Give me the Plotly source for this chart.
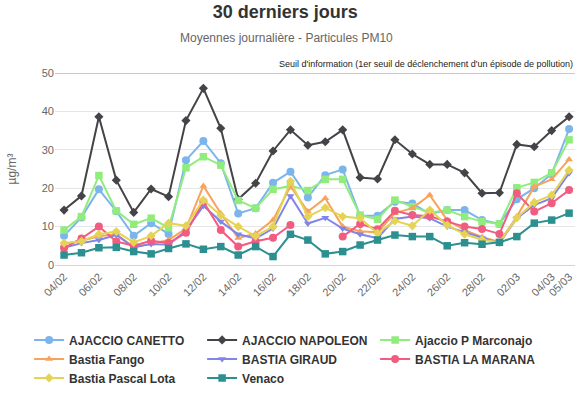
import plotly.graph_objects as go

dates = ["04/02","05/02","06/02","07/02","08/02","09/02","10/02","11/02","12/02","13/02",
         "14/02","15/02","16/02","17/02","18/02","19/02","20/02","21/02","22/02","23/02",
         "24/02","25/02","26/02","27/02","28/02","01/03","02/03","03/03","04/03","05/03"]
tick_labels = ["04/02","06/02","08/02","10/02","12/02","14/02","16/02","18/02","20/02",
               "22/02","24/02","26/02","28/02","02/03","04/03","05/03"]

ajaccio_canetto = [7.6,12.4,19.7,14.0,7.6,10.9,8.1,27.3,32.3,26.5,13.4,14.8,21.4,24.3,17.6,23.4,
                   24.9,12.8,12.8,16.5,16.0,13.3,14.3,14.3,11.7,10.7,17.1,20.0,23.7,35.4]
ajaccio_napoleon = [14.3,18.0,38.6,22.1,13.7,19.8,17.8,37.6,46.0,35.6,17.1,21.3,29.7,35.2,31.2,32.1,
                    35.2,22.8,22.4,32.6,28.9,26.2,26.2,24.0,18.7,18.8,31.4,30.8,35.0,38.6]
ajaccio_marconajo = [9.1,12.6,23.3,14.1,10.6,12.2,9.7,25.3,28.2,26.0,16.8,14.8,19.7,20.6,19.4,22.3,
                     22.3,13.0,11.9,16.9,15.2,13.6,14.3,12.6,11.3,10.7,20.1,21.5,24.0,32.6]
bastia_fango = [5.5,6.3,7.5,8.0,4.7,5.5,6.5,9.5,20.6,13.4,7.0,8.2,11.7,20.5,13.9,17.4,
                10.0,8.8,8.5,13.5,14.8,18.2,11.7,9.1,7.3,6.0,12.6,20.4,22.3,27.5]
bastia_giraud = [4.5,5.7,6.5,7.8,4.6,5.5,5.3,9.0,15.4,11.3,8.0,6.9,9.5,18.0,10.8,12.3,
                 9.5,8.0,7.0,12.0,12.6,12.2,10.0,8.5,7.0,5.7,12.2,15.6,17.4,23.9]
bastia_marana = [4.4,6.9,10.0,6.1,5.0,6.3,5.7,8.4,16.5,9.1,4.8,6.2,7.1,10.4,None,None,
                 7.4,10.7,9.3,14.1,13.0,12.7,11.3,10.0,9.4,8.1,18.7,13.9,16.1,19.5]
bastia_lota = [5.7,6.2,8.0,8.7,5.9,7.6,10.9,10.2,16.9,12.9,10.0,7.5,10.0,21.8,12.6,14.9,
               12.6,12.2,8.3,11.5,10.2,14.3,10.4,8.0,6.6,5.9,12.3,16.3,18.2,24.7]
venaco = [2.6,3.2,4.5,4.6,3.5,2.9,4.3,5.5,4.1,4.8,2.6,4.8,2.2,8.0,6.5,2.9,
          3.5,5.2,6.5,7.8,7.4,7.4,5.0,5.8,5.4,5.9,7.4,10.9,11.7,13.5]

seuil = 50

series = [
    ("AJACCIO CANETTO", ajaccio_canetto, "#7cb5ec", "circle"),
    ("AJACCIO NAPOLEON", ajaccio_napoleon, "#434348", "diamond"),
    ("Ajaccio P Marconajo", ajaccio_marconajo, "#90ed7d", "square"),
    ("Bastia Fango", bastia_fango, "#f7a35c", "triangle-up"),
    ("BASTIA GIRAUD", bastia_giraud, "#8085e9", "triangle-down"),
    ("BASTIA LA MARANA", bastia_marana, "#f15c80", "circle"),
    ("Bastia Pascal Lota", bastia_lota, "#e4d354", "diamond"),
    ("Venaco", venaco, "#2b908f", "square"),
]
sizes = {"circle": 8, "diamond": 7, "square": 7.5, "triangle-up": 7, "triangle-down": 7}

fig = go.Figure()
for name, vals, color, sym in series:
    fig.add_trace(go.Scatter(
        x=dates, y=vals, name=name,
        mode="lines+markers",
        line=dict(color=color, width=2),
        marker=dict(symbol=sym, size=sizes[sym], color=color),
        connectgaps=False,
    ))

fig.add_shape(type="line", xref="paper", x0=0, x1=1, yref="y", y0=seuil, y1=seuil,
              line=dict(color="#f0c283", width=2), layer="above")
fig.add_annotation(xref="paper", x=1, yref="y", y=seuil, yshift=9, xanchor="right",
                   showarrow=False,
                   text="Seuil d'information (1er seuil de déclenchement d'un épisode de pollution)",
                   font=dict(size=9, color="#222", family="Liberation Sans, Arial, sans-serif"))
fig.add_annotation(xref="paper", yref="paper", x=0.445, y=1, yshift=44, xanchor="center",
                   showarrow=False, text="Moyennes journalière - Particules PM10",
                   font=dict(size=12, color="#666666"))

fig.update_layout(
    width=582, height=393,
    margin=dict(l=55, r=7, t=73, b=128),
    paper_bgcolor="white", plot_bgcolor="white",
    font=dict(family="Liberation Sans, Arial, sans-serif", color="#666666", size=11),
    title=dict(text="<b>30 derniers jours</b>", x=0.49, xanchor="center", y=0.985, yanchor="top",
               font=dict(size=18, color="#333333")),
    showlegend=True,
    legend=dict(orientation="h", xref="container", yref="container", x=0.05, y=0.172,
                xanchor="left", yanchor="top", entrywidth=128, entrywidthmode="pixels",
                font=dict(size=12, color="#333333", family="Liberation Sans, Arial, sans-serif",
                          weight="bold"),
                tracegroupgap=0, itemwidth=30, bgcolor="rgba(0,0,0,0)"),
)

fig.update_xaxes(type="category", range=[-0.52, 29.34], tickmode="array",
                 tickvals=tick_labels, ticktext=tick_labels, tickangle=-45,
                 showgrid=False, showline=True, linecolor="#ccd6eb", linewidth=1,
                 ticks="", tickfont=dict(size=11, color="#666666"))
fig.update_yaxes(range=[0, 50], tickvals=[0, 10, 20, 30, 40, 50], showgrid=True,
                 gridcolor="#e6e6e6", zeroline=False, showline=False, automargin=False,
                 tickfont=dict(size=11, color="#666666"),
                 title=dict(text="µg/m³", font=dict(size=12, color="#666666"), standoff=22))

fig.write_html("out.html", config={"displayModeBar": False},
               post_script="document.body.style.margin='0';")
